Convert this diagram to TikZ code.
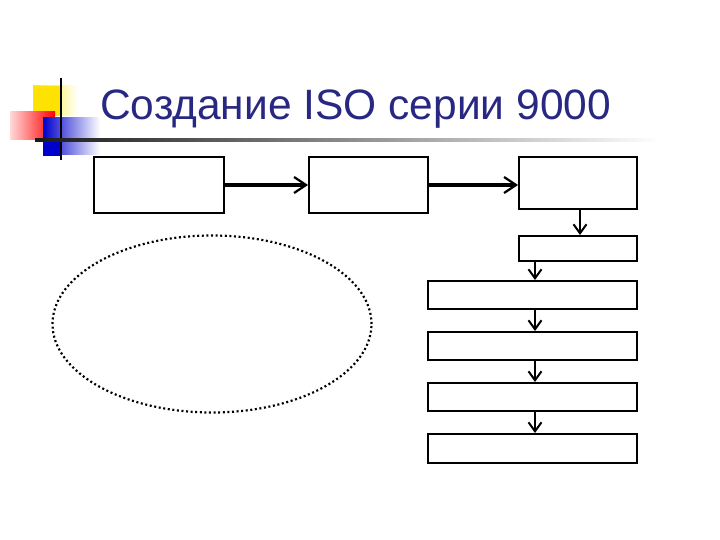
\documentclass[tikz,border=0pt]{standalone}
\usepackage{fontspec}
\setmainfont{Liberation Sans}
\usetikzlibrary{arrows.meta,shapes.geometric}
\definecolor{titleblue}{RGB}{40,40,130}
\tikzset{
  box/.style={draw=black,line width=2pt,rectangle,minimum width=0pt,inner sep=0pt},
  conn/.style={line width=2.2pt,-{Straight Barb[length=9pt,width=13pt,line width=2pt]}},
  hconn/.style={line width=3.4pt,-{Straight Barb[length=12pt,width=16pt,line width=2.2pt]}},
}
\begin{document}
\begin{tikzpicture}[x=1pt,y=-1pt]
\useasboundingbox (0,0) rectangle (720,540);
% decoration
\fill[left color=yellow!85!orange,right color=white] (33,86) rectangle (78,116);
\fill[yellow!85!orange] (33,86) rectangle (60,116);
\fill[left color=red!15,right color=red] (10,112) rectangle (55,140);
\fill[left color=blue!80!black,right color=white] (43,118) rectangle (100,155);
\fill[blue!80!black] (43,140) rectangle (62,156);
\draw[line width=2pt] (61,78) -- (61,160);
\shade[left color=black!90,right color=white] (35,139) rectangle (660,142);
% title
\node[anchor=base west,text=titleblue,font=\fontsize{42.5}{46}\selectfont,inner sep=0pt] (title) at (100,120) {Создание ISO серии 9000};
% boxes
\node[box,minimum width=130pt,minimum height=56pt] (b1) at (159,185) {};
\node[box,minimum width=119pt,minimum height=56pt] (b2) at (368.5,185) {};
\node[box,minimum width=118pt,minimum height=52pt] (b3) at (578,183) {};
\node[box,minimum width=118pt,minimum height=25pt] (b4) at (578,248.5) {};
\node[box,minimum width=209pt,minimum height=28pt] (b5) at (532.5,295) {};
\node[box,minimum width=209pt,minimum height=28pt] (b6) at (532.5,346) {};
\node[box,minimum width=209pt,minimum height=28pt] (b7) at (532.5,397) {};
\node[box,minimum width=209pt,minimum height=29pt] (b8) at (532.5,448.5) {};
% ellipse
\node[draw,ellipse,line width=2.2pt,dash pattern=on 2pt off 2.6pt,minimum width=319pt,minimum height=177pt,inner sep=0pt] (el) at (212,324) {};
% connectors
\draw[hconn] (b1.east) -- (b2.west);
\draw[hconn] (b2.east) -- (b3.west |- b2.east);
\draw[conn] (b3.south -| 580,0) -- (b4.north -| 580,0);
\draw[conn] (b4.south -| 535,0) -- (b5.north -| 535,0);
\draw[conn] (b5.south -| 535,0) -- (b6.north -| 535,0);
\draw[conn] (b6.south -| 535,0) -- (b7.north -| 535,0);
\draw[conn] (b7.south -| 535,0) -- (b8.north -| 535,0);
\end{tikzpicture}
\end{document}
